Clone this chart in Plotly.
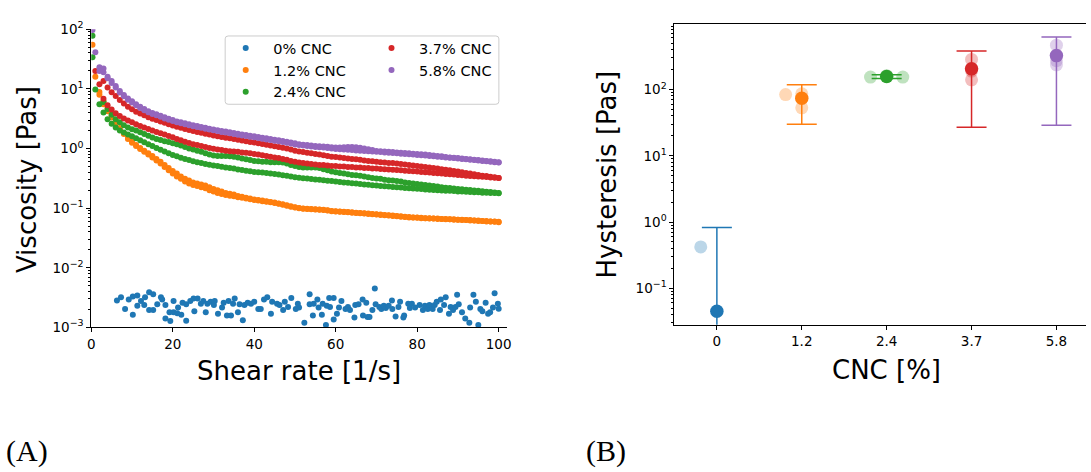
import plotly.graph_objects as go

W, H = 1091, 472


def fx(x):
    return x / W


def fy(y):
    return 1 - y / H


# ---------------- Panel A data: viscosity vs shear rate ----------------
SHEAR = [0.3, 1, 2, 3, 4, 5, 6, 7, 8, 9, 10,
         11, 12, 13, 14, 15, 16, 17, 18, 19, 20,
         21, 22, 23, 24, 25, 26, 27, 28, 29, 30,
         31, 32, 33, 34, 35, 36, 37, 38, 39, 40,
         41, 42, 43, 44, 45, 46, 47, 48, 49, 50,
         51, 52, 53, 54, 55, 56, 57, 58, 59, 60,
         61, 62, 63, 64, 65, 66, 67, 68, 69, 70,
         71, 72, 73, 74, 75, 76, 77, 78, 79, 80,
         81, 82, 83, 84, 85, 86, 87, 88, 89, 90,
         91, 92, 93, 94, 95, 96, 97, 98, 99, 100]

# 1.2% CNC (up / down sweeps)
ORANGE_UP = [55, 16, 8.9, 6.2, 4.8, 3.6, 2.8, 2.2, 1.8, 1.5, 1.3,
             1.15, 1.02, 0.92, 0.83, 0.75, 0.67, 0.6, 0.53, 0.47, 0.42,
             0.38, 0.34, 0.31, 0.29, 0.27, 0.26, 0.25, 0.24, 0.225, 0.21,
             0.2, 0.19, 0.18, 0.175, 0.17, 0.16, 0.155, 0.15, 0.145, 0.14,
             0.137, 0.134, 0.13, 0.127, 0.124, 0.12, 0.116, 0.112, 0.108, 0.104,
             0.101, 0.099, 0.098, 0.097, 0.096, 0.095, 0.094, 0.092, 0.09, 0.089,
             0.088, 0.087, 0.086, 0.085, 0.084, 0.083, 0.082, 0.081, 0.08, 0.079,
             0.078, 0.077, 0.076, 0.075, 0.074, 0.073, 0.072, 0.071, 0.07, 0.07,
             0.069, 0.068, 0.068, 0.067, 0.067, 0.066, 0.066, 0.065, 0.065, 0.064,
             0.064, 0.063, 0.063, 0.062, 0.062, 0.061, 0.061, 0.06, 0.06, 0.059]
ORANGE_DOWN = [None, None, 8.0, 5.5, 4.2, 3.3, 2.6, 2.1, 1.75, 1.45, 1.25,
               1.1, 0.98, 0.88, 0.79, 0.71, 0.63, 0.56, 0.49, 0.43, 0.38,
               0.34, 0.31, 0.28, 0.26, 0.245, 0.235, 0.225, 0.215, 0.2, 0.19,
               0.18, 0.172, 0.166, 0.162, 0.158, 0.153, 0.149, 0.145, 0.141, 0.137,
               0.134, 0.131, 0.128, 0.125, 0.122, 0.118, 0.114, 0.11, 0.106, 0.103,
               0.1, 0.098, 0.097, 0.096, 0.095, 0.094, 0.093, 0.091, 0.089, 0.088,
               0.087, 0.086, 0.085, 0.084, 0.083, 0.082, 0.081, 0.08, 0.079, 0.078,
               0.077, 0.076, 0.075, 0.074, 0.073, 0.072, 0.071, 0.07, 0.07, 0.069,
               0.068, 0.068, 0.067, 0.067, 0.066, 0.066, 0.065, 0.065, 0.064, 0.064,
               0.063, 0.063, 0.062, 0.062, 0.061, 0.061, 0.06, 0.06, 0.059, 0.058]

# 2.4% CNC
GREEN_UP = [78, None, None, 6.0, 4.6, 3.7, 3.1, 2.75, 2.45, 2.25, 2.1,
            2.0, 1.88, 1.75, 1.63, 1.53, 1.45, 1.39, 1.33, 1.28, 1.23,
            1.18, 1.12, 1.06, 1.0, 0.96, 0.92, 0.88, 0.83, 0.79, 0.76,
            0.75, 0.75, 0.75, 0.74, 0.73, 0.71, 0.68, 0.66, 0.64, 0.62,
            0.61, 0.6, 0.6, 0.59, 0.59, 0.59, 0.58, 0.56, 0.53, 0.51,
            0.49, 0.48, 0.48, 0.48, 0.48, 0.47, 0.45, 0.43, 0.41, 0.4,
            0.39, 0.38, 0.37, 0.36, 0.355, 0.35, 0.34, 0.33, 0.32, 0.315,
            0.31, 0.3, 0.295, 0.29, 0.285, 0.28, 0.27, 0.265, 0.26, 0.255,
            0.25, 0.245, 0.24, 0.235, 0.23, 0.225, 0.22, 0.217, 0.213, 0.21,
            0.207, 0.204, 0.201, 0.198, 0.195, 0.192, 0.189, 0.186, 0.183, 0.18]
GREEN_DOWN = [34, 9.8, 5.5, 4.0, 3.1, 2.6, 2.25, 2.0, 1.85, 1.72, 1.6,
              1.48, 1.37, 1.27, 1.18, 1.1, 1.02, 0.95, 0.89, 0.83, 0.78,
              0.74, 0.7, 0.67, 0.64, 0.61, 0.59, 0.57, 0.55, 0.535, 0.52,
              0.51, 0.495, 0.48, 0.47, 0.46, 0.445, 0.435, 0.425, 0.415, 0.405,
              0.4, 0.395, 0.39, 0.38, 0.374, 0.365, 0.357, 0.348, 0.34, 0.33,
              0.322, 0.318, 0.313, 0.308, 0.303, 0.298, 0.294, 0.289, 0.284, 0.28,
              0.275, 0.27, 0.266, 0.262, 0.258, 0.254, 0.25, 0.246, 0.242, 0.239,
              0.236, 0.233, 0.23, 0.227, 0.224, 0.221, 0.218, 0.216, 0.214, 0.212,
              0.209, 0.206, 0.204, 0.202, 0.2, 0.198, 0.196, 0.195, 0.193, 0.191,
              0.19, 0.188, 0.187, 0.185, 0.184, 0.182, 0.181, 0.18, 0.179, 0.178]

# 3.7% CNC
RED_UP = [None, 20, 12, 13.5, 10.5, 8.8, 7.6, 6.5, 5.7, 5.0, 4.55,
          4.15, 3.85, 3.6, 3.35, 3.15, 3.0, 2.85, 2.7, 2.55, 2.42,
          2.32, 2.22, 2.13, 2.05, 1.97, 1.9, 1.83, 1.77, 1.71, 1.66,
          1.61, 1.56, 1.52, 1.48, 1.44, 1.4, 1.36, 1.32, 1.29, 1.26,
          1.22, 1.19, 1.16, 1.12, 1.09, 1.06, 1.03, 1.0, 0.96, 0.92,
          0.89, 0.87, 0.85, 0.83, 0.81, 0.79, 0.77, 0.75, 0.73, 0.72,
          0.71, 0.69, 0.68, 0.67, 0.66, 0.65, 0.63, 0.62, 0.61, 0.6,
          0.59, 0.58, 0.57, 0.57, 0.56, 0.55, 0.54, 0.53, 0.52, 0.51,
          0.5, 0.49, 0.48, 0.47, 0.46, 0.45, 0.44, 0.43, 0.42, 0.41,
          0.4, 0.39, 0.38, 0.37, 0.36, 0.35, 0.345, 0.335, 0.33, 0.32]
RED_DOWN = [None, None, None, 6.8, 5.3, 4.5, 3.9, 3.5, 3.2, 2.95, 2.75,
            2.55, 2.38, 2.25, 2.12, 2.0, 1.9, 1.8, 1.71, 1.62, 1.54,
            1.45, 1.37, 1.3, 1.24, 1.18, 1.14, 1.1, 1.06, 1.02, 0.99,
            0.96, 0.94, 0.92, 0.9, 0.89, 0.88, 0.86, 0.85, 0.83, 0.81,
            0.79, 0.77, 0.75, 0.73, 0.71, 0.69, 0.67, 0.65, 0.62, 0.6,
            0.58, 0.57, 0.56, 0.55, 0.54, 0.53, 0.53, 0.52, 0.51, 0.51,
            0.5, 0.5, 0.49, 0.49, 0.48, 0.48, 0.47, 0.47, 0.46, 0.46,
            0.455, 0.45, 0.445, 0.44, 0.435, 0.43, 0.425, 0.42, 0.415, 0.41,
            0.405, 0.4, 0.395, 0.39, 0.385, 0.38, 0.375, 0.37, 0.365, 0.36,
            0.355, 0.35, 0.347, 0.343, 0.34, 0.336, 0.332, 0.328, 0.324, 0.32]

# 5.8% CNC
PURPLE_UP = [97, 41, 23, 22, 16, 13.5, 11.2, 9.2, 7.9, 6.9, 6.2,
             5.5, 5.0, 4.6, 4.2, 3.95, 3.75, 3.55, 3.35, 3.15, 3.0,
             2.85, 2.75, 2.65, 2.55, 2.45, 2.38, 2.3, 2.22, 2.15, 2.08,
             2.02, 1.97, 1.92, 1.87, 1.82, 1.77, 1.72, 1.68, 1.64, 1.6,
             1.56, 1.52, 1.48, 1.44, 1.4, 1.37, 1.34, 1.3, 1.26, 1.22,
             1.18, 1.16, 1.14, 1.12, 1.1, 1.09, 1.08, 1.07, 1.05, 1.04,
             1.04, 1.05, 1.06, 1.06, 1.05, 1.03, 1.0, 0.97, 0.94, 0.91,
             0.9, 0.89, 0.88, 0.87, 0.86, 0.85, 0.84, 0.83, 0.82, 0.81,
             0.8, 0.79, 0.78, 0.76, 0.75, 0.74, 0.72, 0.71, 0.7, 0.69,
             0.68, 0.67, 0.66, 0.65, 0.64, 0.63, 0.62, 0.61, 0.6, 0.59]
PURPLE_DOWN = [None, None, 20, 19, 15, 12.5, 10.5, 8.7, 7.5, 6.6, 5.9,
               5.3, 4.8, 4.4, 4.05, 3.8, 3.6, 3.4, 3.2, 3.05, 2.9,
               2.76, 2.65, 2.55, 2.46, 2.37, 2.29, 2.22, 2.15, 2.08, 2.02,
               1.96, 1.9, 1.85, 1.8, 1.75, 1.7, 1.66, 1.62, 1.58, 1.54,
               1.5, 1.46, 1.42, 1.39, 1.35, 1.32, 1.29, 1.25, 1.21, 1.17,
               1.14, 1.12, 1.1, 1.08, 1.06, 1.05, 1.04, 1.02, 1.0, 0.98,
               0.97, 0.96, 0.95, 0.94, 0.93, 0.92, 0.91, 0.9, 0.89, 0.88,
               0.87, 0.86, 0.85, 0.84, 0.83, 0.82, 0.81, 0.8, 0.79, 0.78,
               0.77, 0.76, 0.75, 0.74, 0.73, 0.72, 0.71, 0.7, 0.69, 0.68,
               0.67, 0.66, 0.65, 0.64, 0.63, 0.62, 0.61, 0.6, 0.59, 0.58]

# 0% CNC (noisy, near instrument limit)
BLUE_SHEAR = [6.3, 7.3, 8.3, 9.2, 10.2, 10.2, 11.3, 11.3, 12.2, 13.0,
              13.2, 14.2, 14.2, 15.2, 15.2, 16.2, 17.1, 17.4, 18.2, 18.2,
              19.2, 19.4, 20.2, 20.2, 21.1, 21.3, 22.1, 22.4, 23.3, 23.3,
              24.3, 25.1, 25.3, 26.1, 26.9, 27.5, 28.1, 28.5, 29.3, 30.1,
              30.3, 31.1, 32.1, 32.5, 33.3, 33.7, 34.3, 34.8, 35.2, 36.0,
              36.4, 37.2, 37.6, 38.4, 39.2, 40.0, 41.0, 41.6, 42.4, 43.2,
              44.1, 44.4, 45.6, 46.2, 47.1, 47.5, 48.3, 49.1, 50.2, 50.7,
              51.0, 52.3, 53.6, 53.6, 54.4, 54.6, 55.5, 55.8, 56.6, 56.8,
              57.6, 57.8, 58.4, 58.6, 59.5, 59.5, 60.3, 60.8, 61.4, 62.4,
              63.0, 63.5, 64.6, 64.8, 65.6, 66.6, 66.7, 67.5, 67.8, 68.3,
              69.0, 69.6, 69.8, 70.7, 71.2, 71.8, 72.3, 73.0, 73.8, 73.9,
              74.7, 75.4, 75.8, 76.6, 76.8, 77.8, 78.2, 78.7, 79.5, 80.6,
              81.4, 81.9, 82.6, 83.0, 83.8, 84.3, 84.8, 85.6, 85.8, 86.6,
              87.0, 87.8, 88.2, 88.8, 89.4, 89.8, 90.2, 91.0, 91.8, 92.8,
              93.0, 93.8, 94.4, 95.0, 95.5, 96.0, 96.8, 97.4, 97.9, 98.6,
              99.0, 99.8, 100.0]
BLUE_VISC = [0.00282, 0.00319, 0.00203, 0.00293, 0.00163, 0.00331, 0.00343, 0.0023, 0.00276, 0.00238,
             0.00319, 0.00388, 0.00196, 0.00361, 0.00196, 0.00244, 0.00319, 0.00293, 0.00238, 0.00141,
             0.0018, 0.00128, 0.00276, 0.0018, 0.00173, 0.00216, 0.00163, 0.00259, 0.00129, 0.00244,
             0.00276, 0.00304, 0.00187, 0.00304, 0.0025, 0.00276, 0.0018, 0.0025, 0.00269, 0.00238,
             0.00276, 0.00169, 0.00216, 0.00259, 0.00159, 0.00276, 0.00159, 0.0025, 0.00304, 0.0018,
             0.00244, 0.00132, 0.00238, 0.00259, 0.0025, 0.00269, 0.00203, 0.00203, 0.00293, 0.00319,
             0.00169, 0.00269, 0.0025, 0.00238, 0.00196, 0.00269, 0.00221, 0.00311, 0.00203, 0.0025,
             0.00216, 0.0012, 0.00361, 0.00244, 0.00159, 0.0025, 0.00293, 0.00216, 0.00163, 0.0025,
             0.0011, 0.0023, 0.00311, 0.00221, 0.00311, 0.00136, 0.00169, 0.00216, 0.00276, 0.00203,
             0.00221, 0.00196, 0.00146, 0.00238, 0.00244, 0.00293, 0.00159, 0.00259, 0.0015, 0.0015,
             0.00196, 0.0045, 0.00244, 0.00221, 0.00203, 0.0023, 0.00211, 0.0023, 0.00282, 0.00203,
             0.00153, 0.00221, 0.00269, 0.00146, 0.00159, 0.0025, 0.00211, 0.0025, 0.00216, 0.00238,
             0.00196, 0.0023, 0.00203, 0.00238, 0.00203, 0.00238, 0.00269, 0.00196, 0.00293, 0.00238,
             0.00319, 0.00169, 0.00221, 0.00196, 0.00221, 0.00352, 0.00244, 0.0018, 0.00141, 0.0012,
             0.00216, 0.00352, 0.00269, 0.0011, 0.00203, 0.00187, 0.00259, 0.00169, 0.0018, 0.00216,
             0.00374, 0.0025, 0.00205]

SERIES_NAMES = ["0% CNC", "1.2% CNC", "2.4% CNC", "3.7% CNC", "5.8% CNC"]
COLORS = ["#1f77b4", "#ff7f0e", "#2ca02c", "#d62728", "#9467bd"]

# ---------------- Panel B data: hysteresis ----------------
CNC_LABELS = ["0", "1.2", "2.4", "3.7", "5.8"]
HYST_MEAN = [0.045, 74, 157, 205, 325]
HYST_ERR = [0.78, 44, 10, 178, 296]
# replicate measurements (value, horizontal jitter in category units)
REP_VALUES = [[0.42], [84, 53, 86], [154, 154, 162], [285, 140, 190], [467, 236, 272]]
REP_JITTER = [[-0.19], [-0.19, 0.0, 0.0], [-0.19, 0.19, 0.0], [0.0, 0.0, 0.0], [0.0, 0.0, 0.0]]

FONT = "DejaVu Sans"

fig = go.Figure()

curves = [
    (BLUE_SHEAR, BLUE_VISC),
    (SHEAR + SHEAR, ORANGE_UP + ORANGE_DOWN),
    (SHEAR + SHEAR, GREEN_UP + GREEN_DOWN),
    (SHEAR + SHEAR, RED_UP + RED_DOWN),
    (SHEAR + SHEAR, PURPLE_UP + PURPLE_DOWN),
]
for i, (xs, ys) in enumerate(curves):
    fig.add_trace(go.Scatter(
        x=xs, y=ys, mode="markers", name=SERIES_NAMES[i],
        marker=dict(color=COLORS[i], size=6, line=dict(width=0)),
        xaxis="x", yaxis="y",
        legend="legend" if i < 3 else "legend2",
    ))

for i in range(5):
    fig.add_trace(go.Scatter(
        x=[i + j for j in REP_JITTER[i]], y=REP_VALUES[i], mode="markers",
        marker=dict(color=COLORS[i], size=13, opacity=0.3, line=dict(width=0)),
        xaxis="x2", yaxis="y2", showlegend=False,
    ))
    fig.add_trace(go.Scatter(
        x=[i], y=[HYST_MEAN[i]], mode="markers",
        marker=dict(color=COLORS[i], size=13.5, line=dict(width=0)),
        error_y=dict(type="data", array=[HYST_ERR[i]], symmetric=True,
                     color=COLORS[i], thickness=1.5, width=15),
        xaxis="x2", yaxis="y2", showlegend=False,
    ))

Y1_TICKS = [1e-3, 1e-2, 1e-1, 1, 10, 100]
Y1_TEXT = ["10<sup>\u22123</sup>", "10<sup>\u22122</sup>", "10<sup>\u22121</sup>",
           "10<sup>0</sup>", "10<sup>1</sup>", "10<sup>2</sup>"]
Y2_TICKS = [1e-1, 1, 10, 100]
Y2_TEXT = ["10<sup>\u22121</sup>", "10<sup>0</sup>", "10<sup>1</sup>", "10<sup>2</sup>"]


def minor_vals(lo, hi):
    out = []
    for e in range(lo, hi + 1):
        for m in range(2, 10):
            out.append(m * 10.0 ** e)
    return out


axis_common = dict(showgrid=False, zeroline=False, showline=True, linecolor="black",
                   linewidth=1, ticks="outside", ticklen=4, tickwidth=1,
                   tickcolor="black", tickfont=dict(family=FONT, size=13.5, color="black"))

fig.update_layout(
    width=W, height=H,
    margin=dict(l=0, r=0, t=0, b=0),
    paper_bgcolor="white", plot_bgcolor="white",
    font=dict(family=FONT, color="black"),
    xaxis=dict(domain=[fx(88), fx(507)], range=[0, 102], anchor="y",
               tickvals=[0, 20, 40, 60, 80, 100], **axis_common),
    yaxis=dict(domain=[fy(330), fy(20)], type="log", range=[-3, 2], anchor="x",
               tickvals=Y1_TICKS, ticktext=Y1_TEXT,
               minor=dict(tickvals=minor_vals(-3, 1), ticks="outside", ticklen=2,
                          tickwidth=0.8, tickcolor="black"),
               **axis_common),
    xaxis2=dict(domain=[fx(676), 1.0], range=[-0.5, (1091 - 676) / 85.6 - 0.5], anchor="y2",
                tickvals=[0, 1, 2, 3, 4], ticktext=CNC_LABELS, mirror=True, **axis_common),
    yaxis2=dict(domain=[fy(327.3), fy(14.7)], type="log", range=[-1.552, 2.987], anchor="x2",
                tickvals=Y2_TICKS, ticktext=Y2_TEXT,
                minor=dict(tickvals=minor_vals(-2, 2), ticks="outside", ticklen=2,
                           tickwidth=0.8, tickcolor="black"),
                **axis_common),
    legend=dict(x=fx(216), y=fy(23), xanchor="left", yanchor="top",
                bgcolor="rgba(0,0,0,0)", borderwidth=0, itemwidth=45, tracegroupgap=0,
                font=dict(family=FONT, size=14.5, color="black")),
    legend2=dict(x=fx(363), y=fy(23), xanchor="left", yanchor="top",
                 bgcolor="rgba(0,0,0,0)", borderwidth=0, itemwidth=45, tracegroupgap=0,
                 font=dict(family=FONT, size=14.5, color="black")),
)

# rounded legend frame (matplotlib style)
x0, x1, yt, yb = fx(223), fx(499), fy(27), fy(98)
dx, dy = 3 / W, 3 / H
path = (f"M {x0+dx},{yt} L {x1-dx},{yt} Q {x1},{yt} {x1},{yt-dy} "
        f"L {x1},{yb+dy} Q {x1},{yb} {x1-dx},{yb} L {x0+dx},{yb} "
        f"Q {x0},{yb} {x0},{yb+dy} L {x0},{yt-dy} Q {x0},{yt} {x0+dx},{yt} Z")
fig.add_shape(type="path", path=path, xref="paper", yref="paper",
              line=dict(color="#cccccc", width=1), fillcolor="rgba(255,255,255,0.8)",
              layer="above")

ann = [
    dict(text="Viscosity [Pas]", x=fx(23), y=fy(176), textangle=-90, size=26),
    dict(text="Shear rate [1/s]", x=fx(297), y=fy(375), textangle=0, size=26),
    dict(text="Hysteresis [Pas]", x=fx(609), y=fy(171), textangle=-90, size=26),
    dict(text="CNC [%]", x=fx(890), y=fy(374), textangle=0, size=26),
]
for a in ann:
    fig.add_annotation(text=a["text"], x=a["x"], y=a["y"], xref="paper", yref="paper",
                       xanchor="center", yanchor="middle", textangle=a["textangle"],
                       showarrow=False, font=dict(family=FONT, size=a["size"], color="black"))

for label, xp in [("(A)", 0), ("(B)", 585)]:
    fig.add_annotation(text=label, x=fx(xp), y=fy(458), xref="paper", yref="paper",
                       xanchor="left", yanchor="middle", showarrow=False,
                       font=dict(family="Liberation Serif", size=30, color="black"))

fig.write_html(
    "out.html",
    config={"displayModeBar": False},
    post_script="document.body.style.margin='0px';document.body.style.padding='0px';"
                "document.documentElement.style.overflow='hidden';",
)
